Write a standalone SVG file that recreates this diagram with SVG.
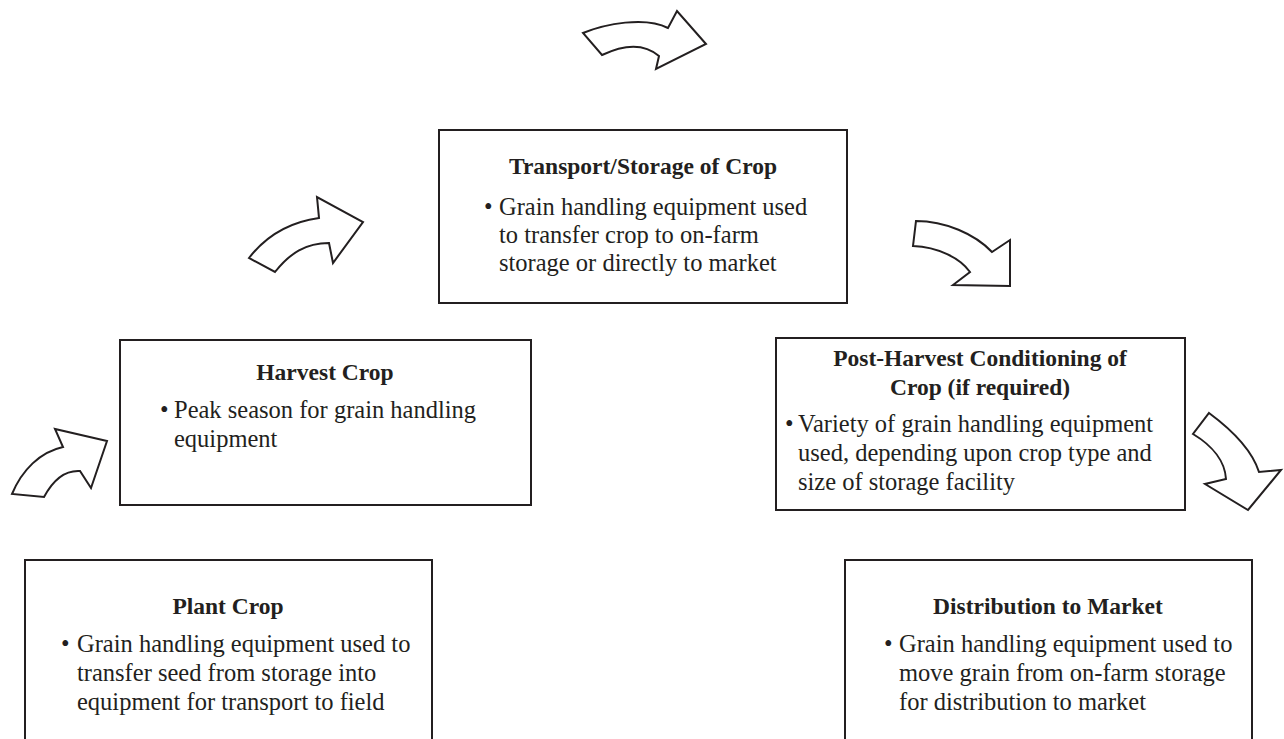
<svg xmlns="http://www.w3.org/2000/svg" width="1284" height="739" viewBox="0 0 1284 739">
<style>
.box{fill:#fff;stroke:#231f20;stroke-width:2}
.arr{fill:#fff;stroke:#231f20;stroke-width:2;stroke-linejoin:miter}
.t{font-family:"Liberation Serif","Times New Roman",serif;font-size:23.5px;font-weight:bold;fill:#231f20;text-anchor:middle}
.b{font-family:"Liberation Serif","Times New Roman",serif;font-size:24.5px;fill:#231f20}
</style>
<rect width="1284" height="739" fill="#fff"/>
<g id="connectors">
<path class="arr" d="M12,494 C22,470 40,452 63,447 L55,429 L107,441 L91,488 L80,471 C64,470 52,482 44,497 Z"/>
<path class="arr" d="M249,258 C266,236 290,222 319,218 L317,197 L363,222 L333,263 L329,243 C306,243 290,253 275,272 Z"/>
<path class="arr" d="M583,33 C605,24 645,16 668,28 L677,11 L706,44 L656,69 L659,56 C645,44 625,44 602,55 Z"/>
<path class="arr" d="M916,221 C945,221 975,234 992,252 L1010,240 L1010,286 L953,285 L970,272 C960,258 938,247 913,246 Z"/>
<path class="arr" d="M1209,413 C1232,430 1252,450 1259,472 L1281,470 L1248,510 L1205,484 L1226,479 C1225,462 1213,446 1193,434 Z"/>
</g>
<g id="transport">
<rect class="box" x="439" y="130" width="408" height="173"/>
<text class="t" x="643" y="174">Transport/Storage of Crop</text>
<text class="b" x="484" y="215">•</text>
<text class="b" x="499" y="215">Grain handling equipment used</text>
<text class="b" x="499" y="243">to transfer crop to on-farm</text>
<text class="b" x="499" y="271">storage or directly to market</text>
</g>
<g id="harvest">
<rect class="box" x="120" y="340" width="411" height="165"/>
<text class="t" x="325" y="380">Harvest Crop</text>
<text class="b" x="160" y="418">•</text>
<text class="b" x="174" y="418">Peak season for grain handling</text>
<text class="b" x="174" y="447">equipment</text>
</g>
<g id="postharvest">
<rect class="box" x="776" y="338" width="409" height="172"/>
<text class="t" x="980" y="366">Post-Harvest Conditioning of</text>
<text class="t" x="980" y="395">Crop (if required)</text>
<text class="b" x="785" y="432">•</text>
<text class="b" x="798" y="432">Variety of grain handling equipment</text>
<text class="b" x="798" y="461">used, depending upon crop type and</text>
<text class="b" x="798" y="490">size of storage facility</text>
</g>
<g id="plant">
<rect class="box" x="25" y="560" width="407" height="200"/>
<text class="t" x="228" y="614">Plant Crop</text>
<text class="b" x="61" y="652">•</text>
<text class="b" x="77" y="652">Grain handling equipment used to</text>
<text class="b" x="77" y="681">transfer seed from storage into</text>
<text class="b" x="77" y="710">equipment for transport to field</text>
</g>
<g id="distribution">
<rect class="box" x="845" y="560" width="407" height="200"/>
<text class="t" x="1048" y="614">Distribution to Market</text>
<text class="b" x="884" y="652">•</text>
<text class="b" x="899" y="652">Grain handling equipment used to</text>
<text class="b" x="899" y="681">move grain from on-farm storage</text>
<text class="b" x="899" y="710">for distribution to market</text>
</g>
</svg>
